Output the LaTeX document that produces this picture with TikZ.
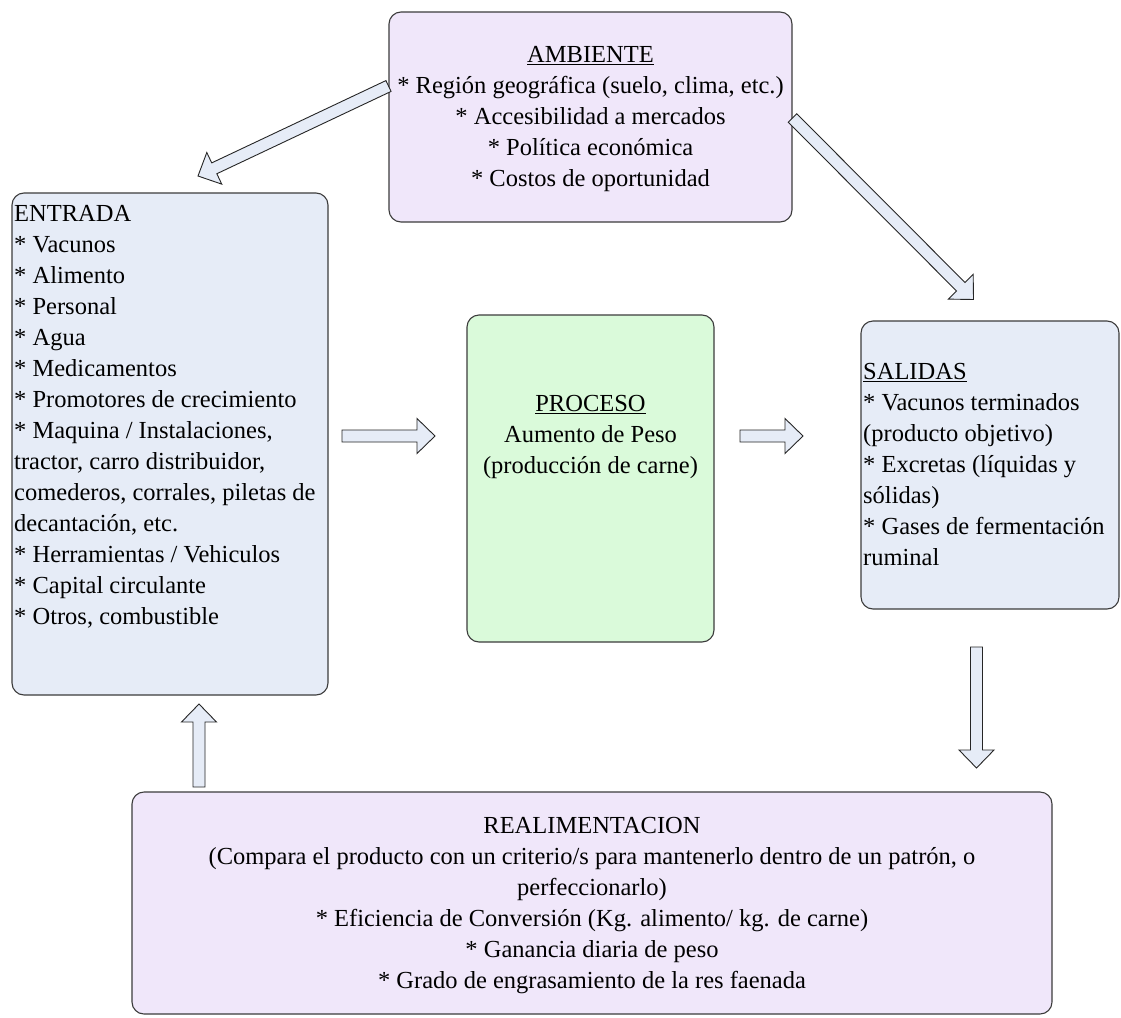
\documentclass[tikz,border=0pt]{standalone}
\usepackage{fontspec}
\setmainfont{Liberation Serif}
\usetikzlibrary{calc}
\definecolor{lav}{RGB}{240,231,250}
\definecolor{lblue}{RGB}{230,236,247}
\definecolor{lgreen}{RGB}{218,250,218}
\definecolor{edge}{RGB}{60,60,60}
\tikzset{
  boxshape/.style={draw=edge, line width=1.1pt, rounded corners=12pt, inner sep=0pt},
  txt/.style={inner sep=0pt, font=\fontsize{24.5}{31}\selectfont},
  arrowshape/.style={draw=black!85, line width=0.9pt, fill=lblue, line join=miter}
}
\newcommand\blockarr[2]{%
  \coordinate (hb) at ($(#2)!18pt!(#1)$);
  \draw[arrowshape] ($(#1)!6pt!90:(#2)$) -- ($(hb)!6pt!-90:(#1)$) -- ($(hb)!17.5pt!-90:(#1)$) -- (#2) -- ($(hb)!17.5pt!90:(#1)$) -- ($(hb)!6pt!90:(#1)$) -- ($(#1)!6pt!-90:(#2)$) -- cycle;
}
\begin{document}
\begin{tikzpicture}[x=1pt,y=-1pt]
\fill[white] (0,0) rectangle (1121,1017);
\useasboundingbox (0,0) rectangle (1121,1017);

% boxes
\draw[boxshape, fill=lav] (389,12) rectangle (792,222);
\node[coordinate] (amb) at (590.5,117) {};
\draw[boxshape, fill=lblue] (12,193) rectangle (328,695);
\node[coordinate] (ent) at (170,444) {};
\draw[boxshape, fill=lgreen] (467,315) rectangle (714,642);
\node[coordinate] (pro) at (590.5,478) {};
\draw[boxshape, fill=lblue] (861,321) rectangle (1119,609);
\node[coordinate] (sal) at (990,465) {};
\draw[boxshape, fill=lav] (132,792) rectangle (1052,1014);
\node[coordinate] (rea) at (592,903) {};

% texts
\node[txt, align=center] (ambt) at (590.5,119) {\underline{AMBIENTE}\\
* Región geográfica (suelo, clima, etc.)\\
* Accesibilidad a mercados\\
* Política económica\\
* Costos de oportunidad};

\node[txt, align=left, anchor=north west] (entt) at (14,205) {ENTRADA\\
* Vacunos\\
* Alimento\\
* Personal\\
* Agua\\
* Medicamentos\\
* Promotores de crecimiento\\
* Maquina / Instalaciones,\\
tractor, carro distribuidor,\\
comederos, corrales, piletas de\\
decantación, etc.\\
* Herramientas / Vehiculos\\
* Capital circulante\\
* Otros, combustible};

\node[txt, align=center] (prot) at (590.5,437) {\underline{PROCESO}\\
Aumento de Peso\\
(producción de carne)};

\node[txt, align=left, anchor=west] (salt) at (863,465) {\underline{SALIDAS}\\
* Vacunos terminados\\
(producto objetivo)\\
* Excretas (líquidas y\\
sólidas)\\
* Gases de fermentación\\
ruminal};

\node[txt, align=center] (reat) at (592,906) {REALIMENTACION\\
(Compara el producto con un criterio/s para mantenerlo dentro de un patrón, o\\
perfeccionarlo)\\
* Eficiencia de Conversión (Kg. alimento/ kg. de carne)\\
* Ganancia diaria de peso\\
* Grado de engrasamiento de la res faenada};

% arrows
\coordinate (a1s) at (388.5,86);
\coordinate (a1e) at (198,176);
\coordinate (a2s) at (792.5,118);
\coordinate (a2e) at (973.5,299.5);
\coordinate (a3s) at (342,436);
\coordinate (a3e) at (435,436);
\coordinate (a4s) at (740,436);
\coordinate (a4e) at (803,436);
\coordinate (a5s) at (976.5,647);
\coordinate (a5e) at (976.5,768);
\coordinate (a6s) at (199,787);
\coordinate (a6e) at (199,704);
\blockarr{a1s}{a1e}
\blockarr{a2s}{a2e}
\blockarr{a3s}{a3e}
\blockarr{a4s}{a4e}
\blockarr{a5s}{a5e}
\blockarr{a6s}{a6e}
\end{tikzpicture}
\end{document}
